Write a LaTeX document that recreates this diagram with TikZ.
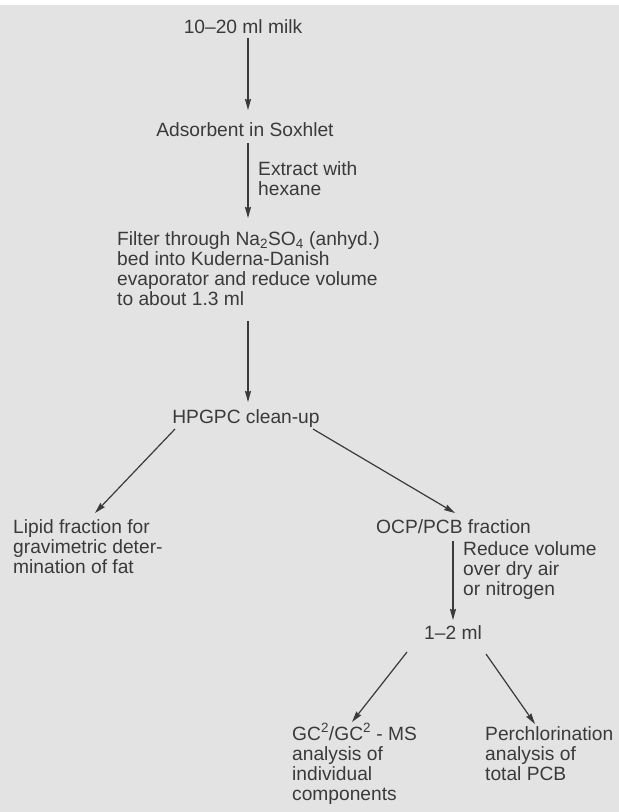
\documentclass[tikz,border=0pt]{standalone}
\usepackage{fontspec}
\setmainfont{Liberation Sans}
\usetikzlibrary{arrows.meta,calc}
\definecolor{ink}{HTML}{3A3A3A}
\definecolor{paper}{HTML}{E3E3E3}
\begin{document}
\begin{tikzpicture}[x=1pt,y=-1pt,
  txt/.style={inner sep=0pt,text=ink,font=\fontsize{19.2}{20}\selectfont,align=left},
  arr/.style={draw=ink,line width=1.2pt,-{Stealth[length=11pt,width=6pt,inset=1pt]}}]
\fill[white] (0,0) rectangle (619,812);
\fill[paper] (0,5) rectangle (619,812);
\useasboundingbox (0,0) rectangle (619,812);

% multi-line nodes: base anchor = baseline of the last line
\node[txt,anchor=base] (milk) at (243,33) {10--20 ml milk};
\node[txt,anchor=base] (ads) at (245,136) {Adsorbent in Soxhlet};
\node[txt,anchor=base west] (ext) at (258,195) {Extract with\\hexane};
\node[txt,anchor=base west] (filt) at (117,305) {Filter through Na\textsubscript{2}SO\textsubscript{4} (anhyd.)\\bed into Kuderna-Danish\\evaporator and reduce volume\\to about 1.3 ml};
\node[txt,anchor=base] (hpg) at (246,423) {HPGPC clean-up};
\node[txt,anchor=base west] (lipid) at (13,573) {Lipid fraction for\\gravimetric deter-\\mination of fat};
\node[txt,anchor=base west] (ocp) at (376,533) {OCP/PCB fraction};
\node[txt,anchor=base west] (red) at (463,595) {Reduce volume\\over dry air\\or nitrogen};
\node[txt,anchor=base] (ml) at (453,639) {1--2 ml};
\node[txt,anchor=base west] (gc) at (292,800) {GC\textsuperscript{2}/GC\textsuperscript{2} - MS\\analysis of\\individual\\components};
\node[txt,anchor=base west] (per) at (485,780) {Perchlorination\\analysis of\\total PCB};

\draw[arr] ($(milk.base)+(5,5)$) -- ($(ads.base)+(3,-26)$);
\draw[arr] ($(ads.base)+(3,7)$) -- ($(filt.base west)+(131,-87)$);
\draw[arr] ($(filt.base west)+(131,16)$) -- ($(hpg.base)+(2,-21)$);
\draw[arr] ($(hpg.base)+(-71,6)$) -- ($(lipid.base west)+(82,-60)$);
\draw[arr] ($(hpg.base)+(67,6)$) -- ($(ocp.base west)+(79,-20)$);
\draw[arr] ($(ocp.base west)+(77,8)$) -- ($(ml.base)+(0,-19)$);
\draw[arr] ($(ml.base)+(-46,13)$) -- ($(gc.base west)+(60,-78)$);
\draw[arr] ($(ml.base)+(33,15)$) -- ($(per.base west)+(50,-56)$);
\end{tikzpicture}
\end{document}
